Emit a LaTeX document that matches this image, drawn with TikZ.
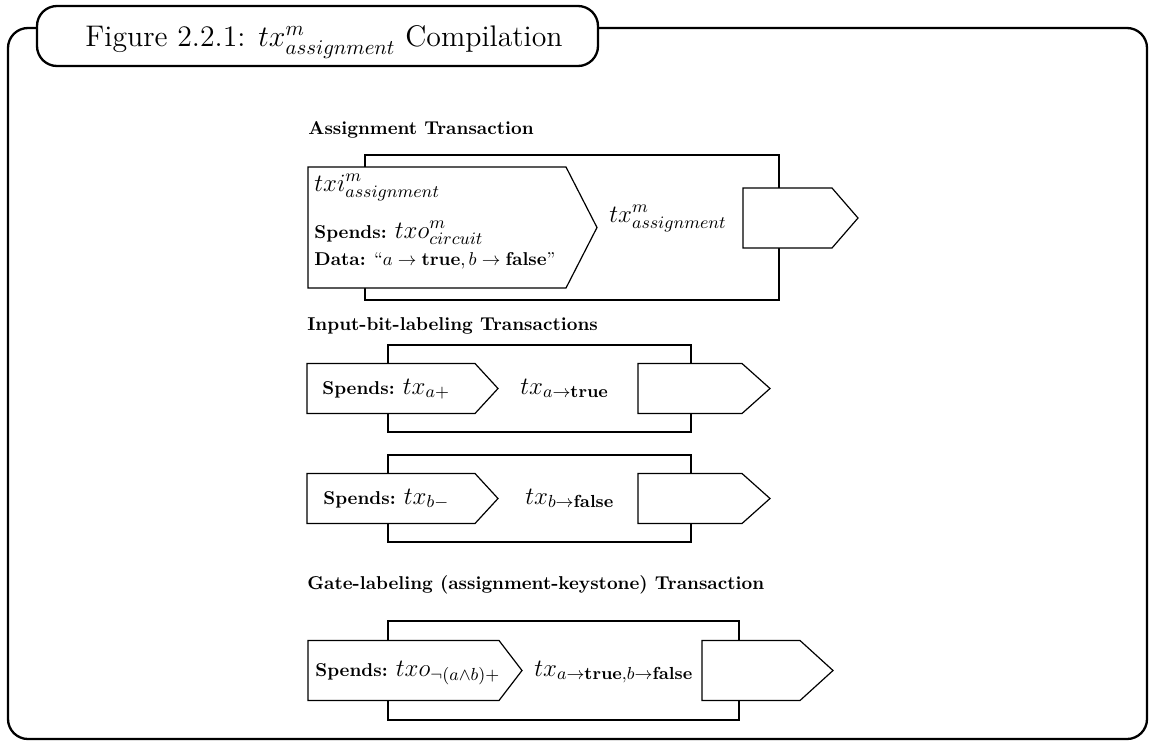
\RequirePackage{fix-cm}
\documentclass[tikz,border=0pt]{standalone}
\usepackage{amsmath}
\newcommand\mbig{\fontsize{13.4}{16}\selectfont}
\begin{document}
\begin{tikzpicture}[x=0.5pt,y=-0.5pt,
  frameline/.style={draw=black, line width=1.15pt, rounded corners=10pt},
  boxline/.style={draw=black, line width=0.6pt, fill=white},
  txt/.style={inner sep=0pt, anchor=base west, scale=0.93},
  head/.style={txt, font=\bfseries},
]
\useasboundingbox (0,0) rectangle (1152,740);

% outer frame and title
\draw[frameline] (8,28) rectangle (1147,739);
\draw[frameline, fill=white] (37,6) rectangle (598,66);
\node[anchor=base, inner sep=0pt, font=\fontsize{14.9}{18}\selectfont] (title) at (324,46.5)
  {Figure 2.2.1: $tx^m_{assignment}$ Compilation};

% ---------- Assignment Transaction ----------
\node[head] (h1) at (308,134) {Assignment Transaction};
\draw[boxline] (365,155) rectangle (779,300);
\draw[boxline] (308,167) -- (566,167) -- (597,227.5) -- (566,288) -- (308,288) -- cycle;
\draw[boxline] (743,188) -- (832,188) -- (858,218) -- (832,248) -- (743,248) -- cycle;
\node[txt] (txi) at (314,191) {\mbig $txi^m_{assignment}$};
\node[txt] (sp1) at (314,238) {\textbf{Spends:} {\mbig $txo^m_{circuit}$}};
\node[txt] (data) at (314,265) {\textbf{Data:} ``$a\rightarrow\mathbf{true}, b\rightarrow\mathbf{false}$''};
\node[txt] (tx1) at (609,222) {\mbig $tx^m_{assignment}$};

% ---------- Input-bit-labeling Transactions ----------
\node[head] (h2) at (307,330) {Input-bit-labeling Transactions};
\draw[boxline] (388,345) rectangle (691,432);
\draw[boxline] (307,363.5) -- (475,363.5) -- (498,388.5) -- (475,413.5) -- (307,413.5) -- cycle;
\draw[boxline] (638,363.5) -- (742,363.5) -- (770,388.5) -- (742,413.5) -- (638,413.5) -- cycle;
\node[txt] (sp2) at (322,394) {\textbf{Spends:} {\mbig $tx_{a+}$}};
\node[txt] (tx2) at (520,394) {\mbig $tx_{a\rightarrow\mathbf{true}}$};

\draw[boxline] (388,455) rectangle (691,542);
\draw[boxline] (307,473.5) -- (475,473.5) -- (498,498.5) -- (475,523.5) -- (307,523.5) -- cycle;
\draw[boxline] (638,473.5) -- (742,473.5) -- (770,498.5) -- (742,523.5) -- (638,523.5) -- cycle;
\node[txt] (sp3) at (323,504) {\textbf{Spends:} {\mbig $tx_{b-}$}};
\node[txt] (tx3) at (525,504) {\mbig $tx_{b\rightarrow\mathbf{false}}$};

% ---------- Gate-labeling Transaction ----------
\node[head] (h3) at (307,589) {Gate-labeling (assignment-keystone) Transaction};
\draw[boxline] (388,621) rectangle (739,720);
\draw[boxline] (308,640.5) -- (499,640.5) -- (522,670.5) -- (499,700.5) -- (308,700.5) -- cycle;
\draw[boxline] (702,640.5) -- (800,640.5) -- (833,670.5) -- (800,700.5) -- (702,700.5) -- cycle;
\node[txt] (sp4) at (315,676) {\textbf{Spends:} {\mbig $txo_{\neg(a\wedge b)+}$}};
\node[txt] (tx4) at (534,676) {\mbig $tx_{a\rightarrow\mathbf{true},b\rightarrow\mathbf{false}}$};
\end{tikzpicture}
\end{document}
